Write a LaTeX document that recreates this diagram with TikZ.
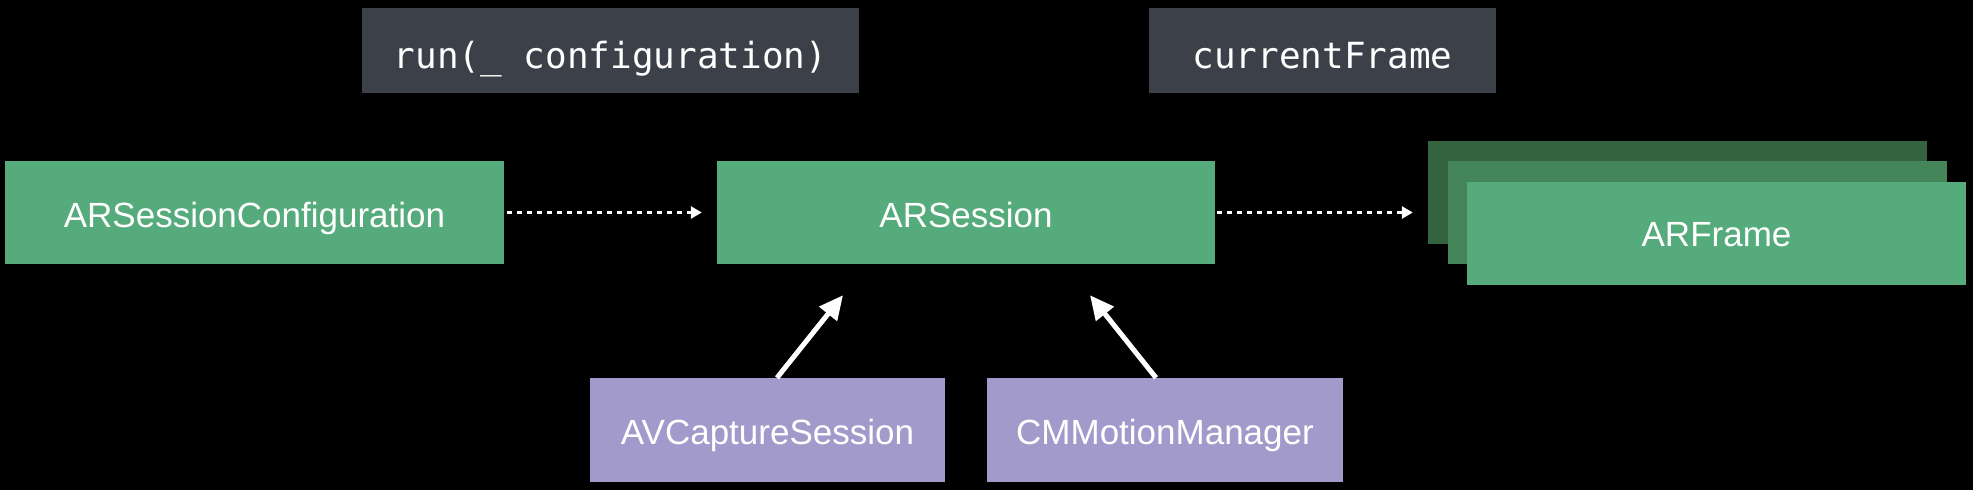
\documentclass[tikz,border=0pt]{standalone}
\usepackage{fontspec}
\setmainfont{Liberation Sans}
\newfontfamily\codefont{DejaVu Sans Mono}
\usetikzlibrary{arrows.meta}
\definecolor{boxgreen}{HTML}{55AB7B}
\definecolor{midgreen}{HTML}{44855A}
\definecolor{backgreen}{HTML}{346340}
\definecolor{codegray}{HTML}{3C4048}
\definecolor{boxpurple}{HTML}{A29ACB}
\begin{document}
\begin{tikzpicture}[x=1pt,y=-1pt,
  box/.style={draw=none, inner sep=0pt, text=white, text height=29pt, text depth=0pt, font=\fontsize{35}{40}\selectfont},
  greenbox/.style={box, fill=boxgreen, minimum width=499pt, minimum height=103pt},
  purplebox/.style={box, fill=boxpurple, minimum width=355pt, minimum height=104pt},
  codebox/.style={box, fill=codegray, minimum height=85pt, text height=35pt, font=\codefont\fontsize{36}{42}\selectfont},
  dotarrow/.style={white, line width=3pt, dash pattern=on 5pt off 5pt, -{Triangle[length=11pt,width=12pt]}},
  solidarrow/.style={white, line width=5pt, -{Triangle[length=24pt,width=22pt]}}]
\fill[black] (0,0) rectangle (1973,490);
\node[codebox, minimum width=497pt] (run) at (610.5,50.5) {run(\_ configuration)};
\node[codebox, minimum width=347pt] (cur) at (1322.5,50.5) {currentFrame};
\node[greenbox] (conf) at (254.5,212.5) {ARSessionConfiguration};
\node[greenbox, minimum width=498pt] (sess) at (966,212.5) {ARSession};
\node[greenbox, fill=backgreen] (fback) at (1677.5,192.5) {};
\node[greenbox, fill=midgreen] (fmid) at (1697,212.5) {};
\node[greenbox, text height=26pt] (front) at (1716.5,233) {ARFrame};
\node[purplebox] (avc) at (767.5,430) {AVCaptureSession};
\node[purplebox, minimum width=356pt] (cmm) at (1165,430) {CMMotionManager};
\draw[dotarrow, shorten <=3pt, shorten >=15pt] (conf.east) -- (sess.west);
\draw[dotarrow, shorten <=2pt, shorten >=15pt] (sess.east) -- (fback.west |- sess.east);
\draw[solidarrow] ([xshift=9.5pt]avc.north) -- ([xshift=-123pt,yshift=-31pt]sess.south);
\draw[solidarrow] ([xshift=-9pt]cmm.north) -- ([xshift=124pt,yshift=-31pt]sess.south);
\end{tikzpicture}
\end{document}
